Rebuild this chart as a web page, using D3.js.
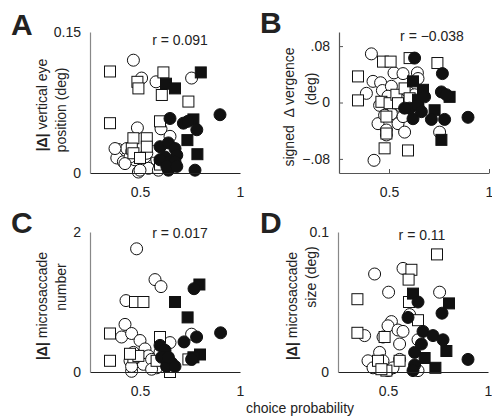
<!DOCTYPE html>
<html>
<head>
<meta charset="utf-8">
<script src="https://cdn.jsdelivr.net/npm/d3@7"></script>
<style>
  body { margin: 0; background: #fff; }
  text { font-family: "Liberation Sans", Arial, sans-serif; fill: #222; }
</style>
</head>
<body>
<div id="chart"></div>
<script>
let svgWidth = 492;
let svgHeight = 420;

// Data =========================
// x = choice probability, y = panel measure

let xTicks = [0.5, 1];
let xTickLabels = ["0.5", "1"];

// A: |Δ| vertical eye position (deg)
let aOpenCircle = [[0.467,0.120],[0.508,0.101],[0.580,0.097],[0.758,0.101],[0.487,0.048],[0.605,0.047],[0.650,0.039],[0.392,0.025],[0.434,0.026],[0.384,0.016],[0.417,0.012],[0.475,0.014],[0.525,0.017],[0.492,0.001],[0.542,0.005],[0.584,0.014],[0.592,0.003],[0.459,0.023],[0.567,0.023],[0.375,0.026],[0.450,0.017],[0.425,0.010],[0.500,0.003],[0.534,0.021],[0.650,0.021]];
let aOpenSquare = [[0.350,0.108],[0.617,0.107],[0.487,0.097],[0.492,0.090],[0.609,0.083],[0.742,0.076],[0.350,0.053],[0.600,0.055],[0.467,0.037],[0.534,0.037],[0.459,0.026],[0.534,0.028],[0.467,0.021],[0.500,0.016],[0.600,0.009]];
let aFilledSquare = [[0.804,0.107],[0.630,0.095],[0.675,0.090],[0.767,0.057],[0.737,0.035],[0.787,0.020]];
let aFilledCircle = [[0.650,0.058],[0.717,0.053],[0.784,0.046],[0.900,0.062],[0.775,0.003],[0.642,0.003],[0.600,0.028],[0.642,0.032],[0.675,0.026],[0.684,0.019],[0.625,0.017],[0.650,0.012],[0.600,0.014],[0.675,0.012],[0.634,0.007],[0.684,0.007],[0.740,0.055]];
let aTicks = [0, 0.15];
let aTickLabels = ["0", "0.15"];

// B: signed Δ vergence (deg)
let bOpenCircle = [[0.412,0.069],[0.525,0.042],[0.570,0.041],[0.642,0.042],[0.645,0.034],[0.420,0.030],[0.458,0.028],[0.467,0.017],[0.512,0.023],[0.387,0.013],[0.495,0.009],[0.453,-0.004],[0.520,-0.004],[0.562,-0.006],[0.595,0.015],[0.628,0.011],[0.445,-0.030],[0.487,-0.039],[0.545,-0.030],[0.578,-0.042],[0.512,-0.016],[0.570,-0.020],[0.753,-0.042],[0.425,-0.082],[0.478,-0.018],[0.487,-0.046]];
let bOpenSquare = [[0.470,0.058],[0.508,0.058],[0.603,0.063],[0.742,0.056],[0.345,0.037],[0.345,0.003],[0.462,0.001],[0.503,-0.001],[0.537,0.011],[0.578,0.020],[0.487,-0.020],[0.487,-0.044],[0.478,-0.065],[0.595,-0.068],[0.545,-0.001],[0.603,0.006]];
let bFilledSquare = [[0.620,0.030],[0.670,0.018],[0.803,0.008],[0.728,-0.011],[0.762,-0.053],[0.645,0.004]];
let bFilledCircle = [[0.628,0.063],[0.767,0.041],[0.762,0.015],[0.603,-0.008],[0.645,-0.004],[0.620,-0.023],[0.712,-0.024],[0.778,-0.024],[0.895,-0.021],[0.678,0.008],[0.662,-0.013],[0.578,-0.008],[0.787,0.011]];
let bTicks = [-0.08, 0, 0.08];
let bTickLabels = ["\u2212.08", "0", ".08"];

// C: |Δ| microsaccade number
let cOpenCircle = [[0.483,1.76],[0.575,1.32],[0.605,1.22],[0.430,1.02],[0.425,0.68],[0.408,0.50],[0.458,0.55],[0.500,0.45],[0.525,0.33],[0.467,0.28],[0.542,0.23],[0.758,0.54],[0.458,0.01],[0.583,0.06],[0.492,0.16],[0.517,0.11],[0.558,0.18],[0.450,0.16],[0.600,0.28],[0.650,0.42],[0.558,0.04],[0.458,0.08]];
let cOpenSquare = [[0.475,1.00],[0.517,1.00],[0.350,0.55],[0.350,0.16],[0.600,0.50],[0.467,0.21],[0.492,0.23],[0.583,0.16],[0.650,0.00],[0.742,0.18],[0.450,0.26]];
let cFilledSquare = [[0.797,1.25],[0.675,1.00],[0.738,0.78],[0.800,0.25],[0.767,0.21]];
let cFilledCircle = [[0.770,1.19],[0.903,0.56],[0.783,0.50],[0.720,0.43],[0.600,0.38],[0.625,0.31],[0.658,0.13],[0.633,0.08],[0.675,0.08],[0.608,0.21],[0.642,0.21],[0.758,0.18]];
let cTicks = [0, 2];
let cTickLabels = ["0", "2"];

// D: |Δ| microsaccade size (deg)
let dOpenCircle = [[0.433,0.070],[0.575,0.074],[0.503,0.057],[0.758,0.057],[0.517,0.036],[0.608,0.041],[0.500,0.033],[0.550,0.030],[0.575,0.029],[0.383,0.026],[0.475,0.025],[0.558,0.020],[0.650,0.023],[0.458,0.014],[0.400,0.008],[0.475,0.008],[0.558,0.009],[0.425,0.003],[0.500,0.001],[0.650,0.001],[0.525,0.003]];
let dOpenSquare = [[0.745,0.084],[0.617,0.073],[0.603,0.066],[0.347,0.052],[0.605,0.050],[0.650,0.037],[0.347,0.028],[0.483,0.025],[0.450,0.008],[0.492,0.001],[0.558,0.008],[0.467,0.002]];
let dFilledSquare = [[0.625,0.056],[0.805,0.049],[0.792,0.015],[0.683,0.010],[0.737,0.003]];
let dFilledCircle = [[0.650,0.050],[0.770,0.042],[0.600,0.039],[0.675,0.029],[0.725,0.026],[0.775,0.023],[0.633,0.014],[0.900,0.009],[0.633,0.005],[0.625,0.001],[0.667,0.020]];
let dTicks = [0, 0.1];
let dTickLabels = ["0", "0.1"];

// Panel layout =================

let panels = [
  { letter: "A", lx: 11, ly: 35, left: 90, right: 240, top: 32, bottom: 173, yDomain: [0, 0.15],
    ticks: aTicks, tickLabels: aTickLabels, r: "r = 0.091", rx: 180, ry: 45, axisTicks: false,
    series: [aOpenCircle, aOpenSquare, aFilledSquare, aFilledCircle],
    ylab: [{ parts: [["|\u0394|", true], [" vertical eye", false]], x: 47, y: 105 },
           { parts: [["position (deg)", false]], x: 66, y: 110 }] },
  { letter: "B", lx: 260, ly: 33, left: 339, right: 489, top: 32, bottom: 173, yDomain: [-0.1, 0.1],
    ticks: bTicks, tickLabels: bTickLabels, r: "r = \u22120.038", rx: 432, ry: 41, axisTicks: true,
    series: [bOpenCircle, bOpenSquare, bFilledSquare, bFilledCircle],
    ylab: [{ parts: [["signed  \u0394 vergence", false]], x: 294, y: 107 },
           { parts: [["(deg)", false]], x: 316, y: 89 }] },
  { letter: "C", lx: 11, ly: 233, left: 90, right: 240, top: 232, bottom: 372, yDomain: [0, 2],
    ticks: cTicks, tickLabels: cTickLabels, r: "r = 0.017", rx: 180, ry: 238, axisTicks: false,
    series: [cOpenCircle, cOpenSquare, cFilledSquare, cFilledCircle],
    ylab: [{ parts: [["|\u0394|", true], [" microsaccade", false]], x: 47, y: 306 },
           { parts: [["number", false]], x: 66, y: 287 }] },
  { letter: "D", lx: 260, ly: 233, left: 338, right: 488, top: 232, bottom: 372, yDomain: [0, 0.1],
    ticks: dTicks, tickLabels: dTickLabels, r: "r = 0.11", rx: 422, ry: 240, axisTicks: false,
    series: [dOpenCircle, dOpenSquare, dFilledSquare, dFilledCircle],
    ylab: [{ parts: [["|\u0394|", true], [" microsaccade", false]], x: 297, y: 306 },
           { parts: [["size (deg)", false]], x: 316, y: 277 }] }
];

let svg = d3.select("#chart").append("svg").attr("width", svgWidth).attr("height", svgHeight);

let drawPanel = p => {
  let g = svg.append("g");
  let xScale = d3.scaleLinear().domain([0.25, 1]).range([p.left, p.right]);
  let yScale = d3.scaleLinear().domain(p.yDomain).range([p.bottom, p.top]);

  // markers: open circles, open squares, filled squares, filled circles
  let [openC, openS, fillS, fillC] = p.series;
  let addCircles = (data, fill) => g.append("g").selectAll("circle")
    .data(data).enter().append("circle")
    .attr("cx", d => xScale(d[0]))
    .attr("cy", d => yScale(d[1]))
    .attr("r", 6)
    .attr("fill", fill)
    .attr("stroke", "#111")
    .attr("stroke-width", 1);
  let addSquares = (data, fill) => g.append("g").selectAll("rect")
    .data(data).enter().append("rect")
    .attr("x", d => xScale(d[0]) - 5.5)
    .attr("y", d => yScale(d[1]) - 5.5)
    .attr("width", 11)
    .attr("height", 11)
    .attr("fill", fill)
    .attr("stroke", "#111")
    .attr("stroke-width", 1);
  addCircles(openC, "#fff");
  addSquares(openS, "#fff");
  addSquares(fillS, "#111");
  addCircles(fillC, "#111");

  // axes
  let inner = p.axisTicks ? -4 : 0;
  let xAxis = g.append("g")
    .attr("transform", `translate(0, ${p.bottom})`)
    .call(d3.axisBottom(xScale).tickValues(xTicks)
      .tickFormat((d, i) => xTickLabels[i])
      .tickSizeInner(inner).tickSizeOuter(0).tickPadding(14));
  xAxis.select(".domain").attr("stroke", p.axisTicks ? "#555" : "#222").attr("stroke-width", 1.2);
  xAxis.selectAll("line").attr("stroke", "#555");

  let yAxis = g.append("g")
    .attr("transform", `translate(${p.left}, 0)`)
    .call(d3.axisLeft(yScale).tickValues(p.ticks)
      .tickFormat((d, i) => p.tickLabels[i])
      .tickSizeInner(inner).tickSizeOuter(0).tickPadding(9));
  yAxis.select(".domain").attr("stroke", p.axisTicks ? "#555" : "#888").attr("stroke-width", 1.2);
  yAxis.selectAll("line").attr("stroke", "#555");

  svg.selectAll(".tick text")
    .attr("font-size", 14)
    .attr("font-family", "'Liberation Sans', Arial, sans-serif")
    .attr("fill", "#222");

  // r value
  g.append("text")
    .attr("x", p.rx)
    .attr("y", p.ry)
    .attr("text-anchor", "middle")
    .attr("font-size", 14)
    .text(p.r);

  // panel letter
  g.append("text")
    .attr("x", p.lx)
    .attr("y", p.ly)
    .attr("font-size", 30)
    .attr("font-weight", "bold")
    .attr("fill", "#111")
    .text(p.letter);

  // y label (two lines, rotated)
  p.ylab.forEach(line => {
    let t = g.append("text")
      .attr("transform", `translate(${line.x}, ${line.y}) rotate(-90)`)
      .attr("text-anchor", "middle")
      .attr("font-size", 14);
    line.parts.forEach(part => {
      t.append("tspan")
        .attr("font-weight", part[1] ? "bold" : "normal")
        .attr("xml:space", "preserve")
        .text(part[0]);
    });
  });
}

panels.forEach(drawPanel);

svg.append("text")
  .attr("x", 300)
  .attr("y", 413)
  .attr("text-anchor", "middle")
  .attr("font-size", 14)
  .text("choice probability");
</script>
</body>
</html>
